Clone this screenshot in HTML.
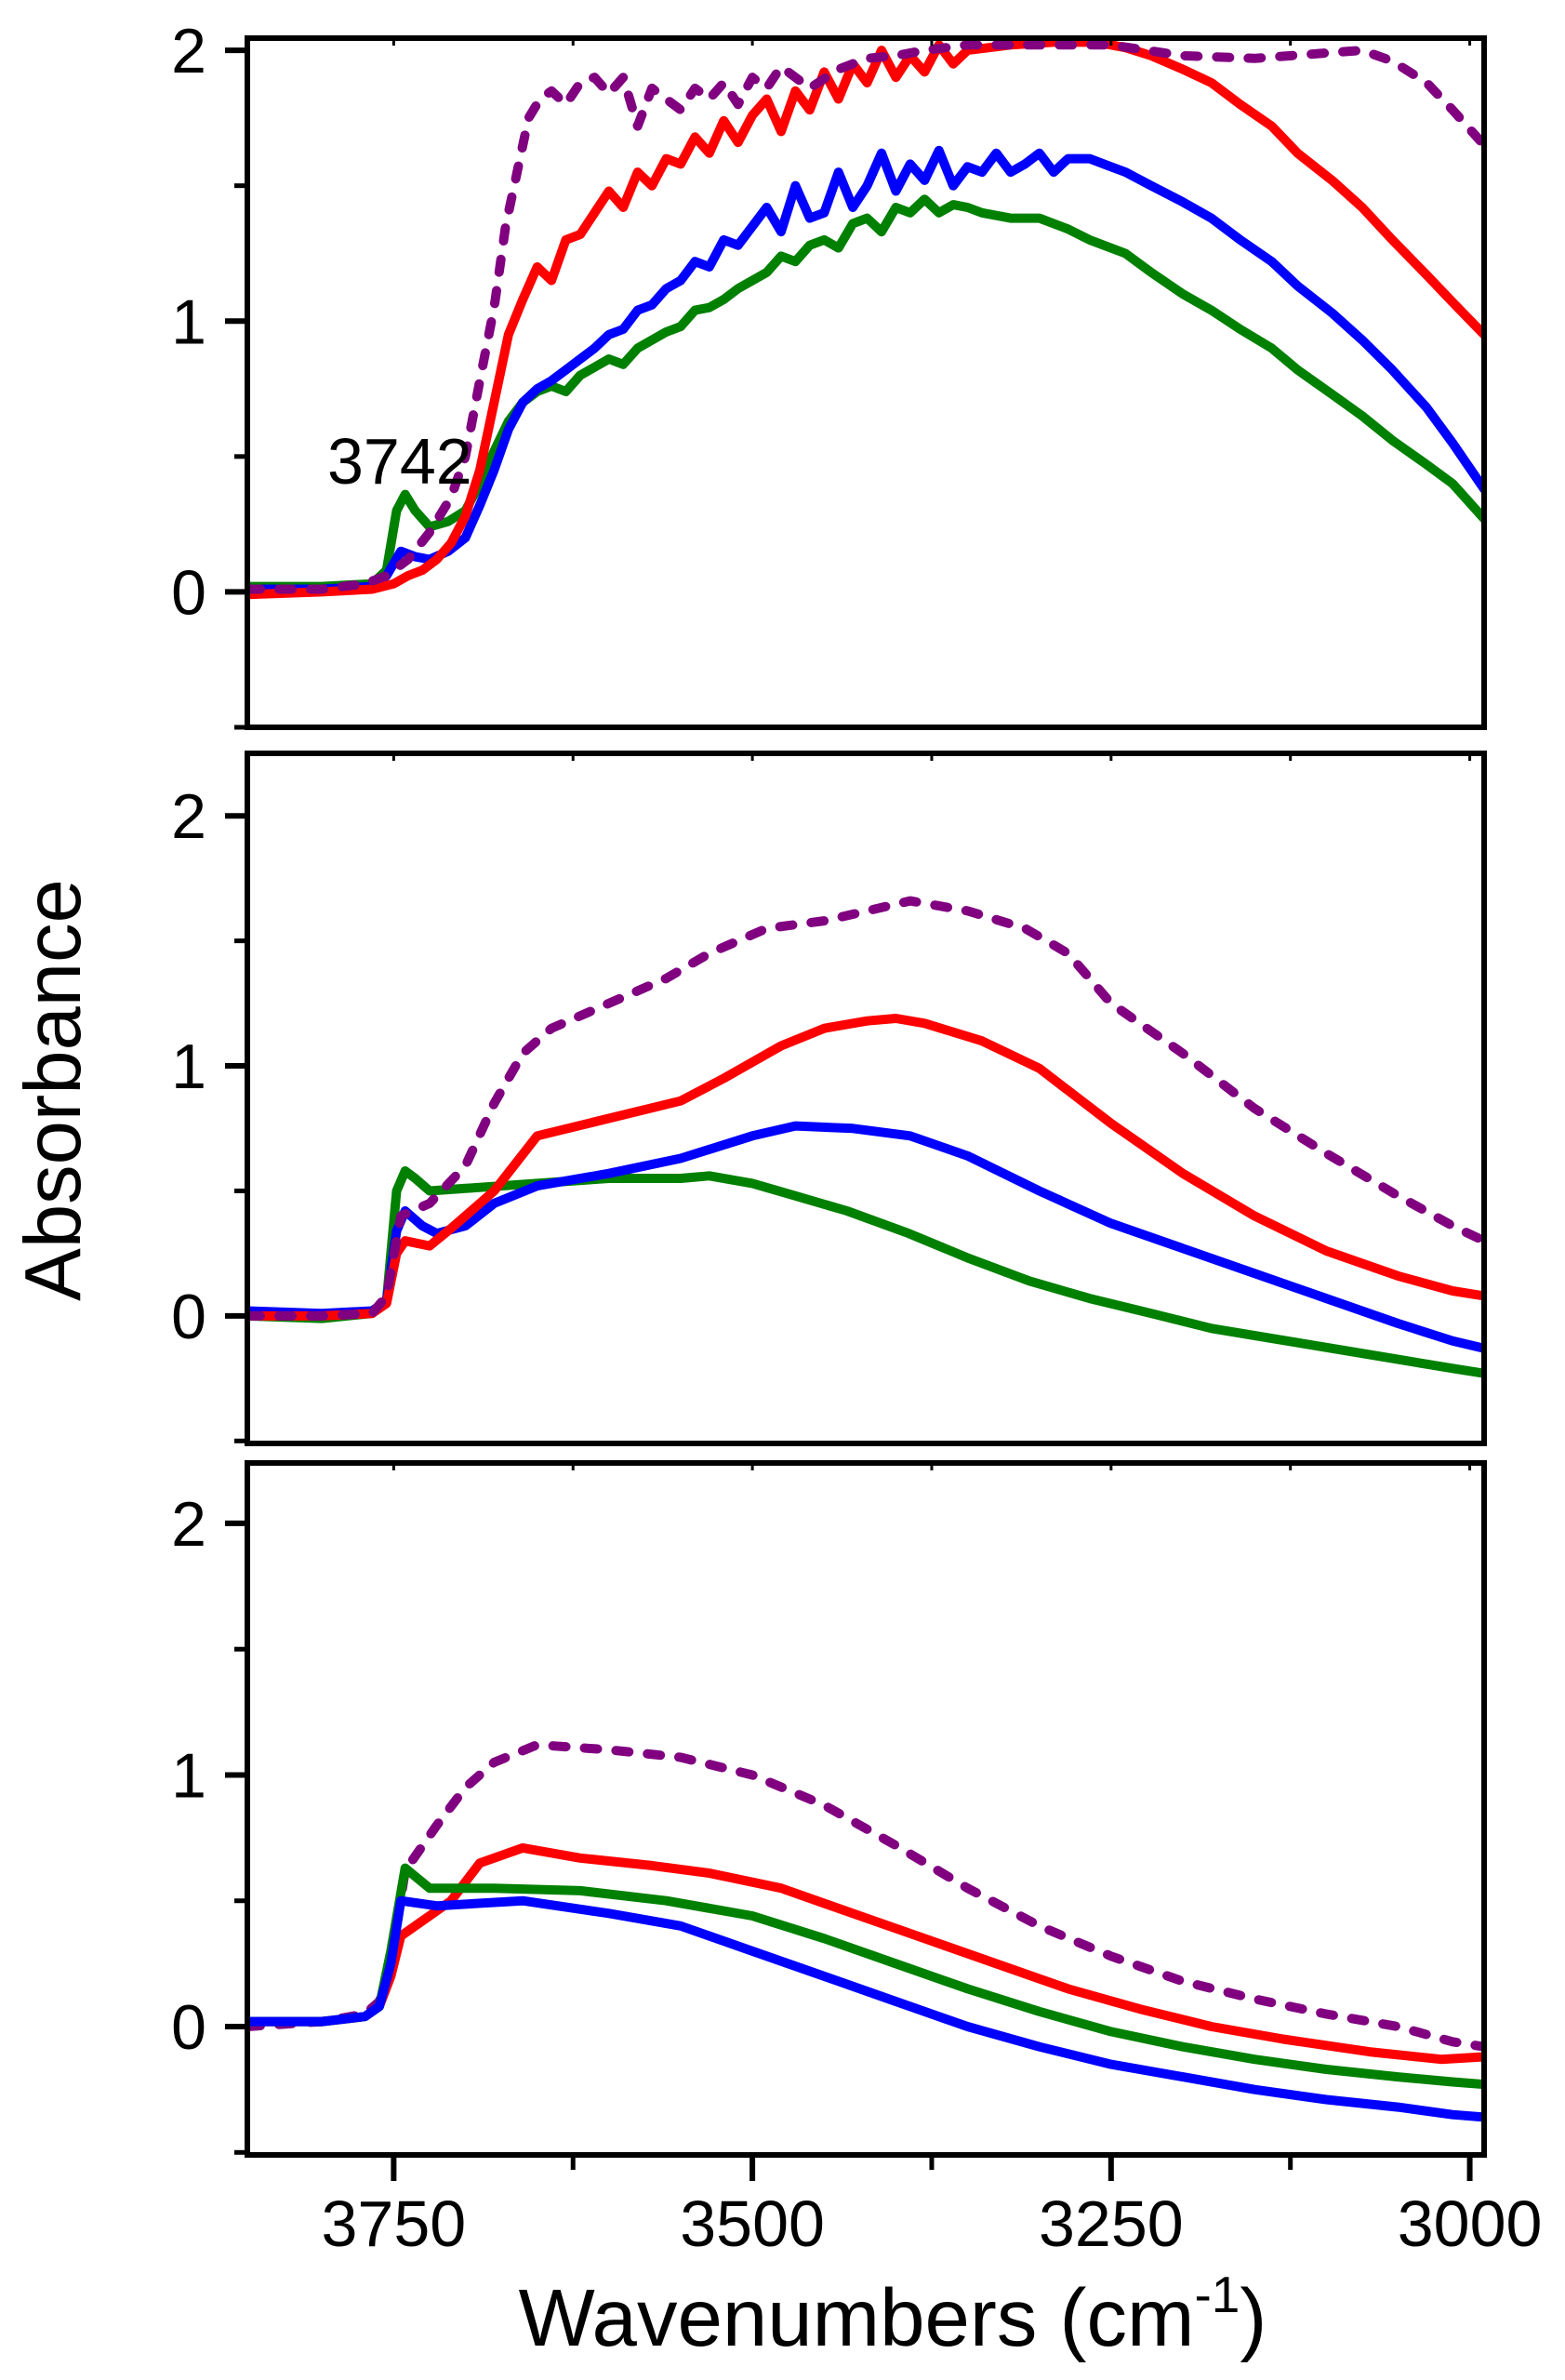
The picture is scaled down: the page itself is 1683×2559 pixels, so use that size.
<!DOCTYPE html>
<html><head><meta charset="utf-8"><style>
html,body{margin:0;padding:0;background:#fff;}
svg{display:block;font-family:"Liberation Sans",sans-serif;}
</style></head>
<body>
<svg id="chart" width="1683" height="2559" viewBox="0 0 1683 2559" xmlns="http://www.w3.org/2000/svg"></svg>
<script>
// shared x axis (wavenumbers)
const xTicks = [3750, 3500, 3250, 3000];
const xMinor = [3625, 3375, 3125];
const xDomain = [3852, 2990];
const yTickLabels = [0, 1, 2];
const yMinor = [-0.5, 0.5, 1.5];

// Panel 1
const p1_green_x = [3852,3800,3765,3755,3748,3742,3735,3725,3712,3700,3690,3680,3670,3660,3650,3640,3630,3620,3610,3600,3590,3580,3570,3560,3550,3540,3530,3520,3510,3500,3490,3480,3470,3460,3450,3440,3430,3420,3410,3400,3390,3380,3370,3360,3350,3340,3320,3300,3280,3265,3240,3222,3200,3180,3160,3138,3120,3096,3075,3054,3030,3012,2990];
const p1_green_y = [0.02,0.02,0.03,0.08,0.30,0.36,0.30,0.24,0.26,0.30,0.40,0.52,0.63,0.70,0.74,0.76,0.74,0.80,0.83,0.86,0.84,0.90,0.93,0.96,0.98,1.04,1.05,1.08,1.12,1.15,1.18,1.24,1.22,1.28,1.30,1.27,1.36,1.38,1.33,1.42,1.40,1.45,1.40,1.43,1.42,1.40,1.38,1.38,1.34,1.30,1.25,1.18,1.10,1.04,0.97,0.90,0.82,0.73,0.65,0.56,0.47,0.40,0.27];
const p1_blue_x = [3852,3800,3765,3755,3745,3735,3725,3712,3700,3690,3680,3670,3660,3650,3640,3630,3620,3610,3600,3590,3580,3570,3560,3550,3540,3530,3520,3510,3500,3490,3480,3470,3460,3450,3440,3430,3420,3410,3400,3390,3380,3370,3360,3350,3340,3330,3320,3310,3300,3290,3280,3265,3250,3240,3222,3200,3180,3160,3138,3120,3096,3075,3054,3030,3012,2990];
const p1_blue_y = [0.01,0.01,0.02,0.06,0.15,0.13,0.12,0.15,0.20,0.32,0.45,0.60,0.70,0.75,0.78,0.82,0.86,0.90,0.95,0.97,1.04,1.06,1.12,1.15,1.22,1.20,1.30,1.28,1.35,1.42,1.33,1.50,1.38,1.40,1.55,1.42,1.50,1.62,1.48,1.58,1.52,1.63,1.50,1.57,1.55,1.62,1.55,1.58,1.62,1.55,1.60,1.60,1.57,1.55,1.50,1.44,1.38,1.30,1.22,1.13,1.03,0.93,0.82,0.68,0.55,0.38];
const p1_red_x = [3852,3800,3765,3750,3740,3730,3720,3710,3700,3690,3680,3670,3660,3650,3640,3630,3620,3610,3600,3590,3580,3570,3560,3550,3540,3530,3520,3510,3500,3490,3480,3470,3460,3450,3440,3430,3420,3410,3400,3390,3380,3370,3360,3350,3320,3290,3260,3240,3222,3200,3180,3160,3138,3120,3096,3075,3054,3030,3012,2990];
const p1_red_y = [-0.01,0.0,0.01,0.03,0.06,0.08,0.12,0.18,0.28,0.45,0.70,0.95,1.08,1.20,1.15,1.30,1.32,1.40,1.48,1.42,1.55,1.50,1.60,1.58,1.68,1.62,1.74,1.66,1.76,1.82,1.70,1.85,1.78,1.92,1.82,1.95,1.88,2.00,1.90,1.98,1.92,2.02,1.95,2.00,2.02,2.03,2.03,2.01,1.98,1.93,1.88,1.80,1.72,1.62,1.52,1.42,1.30,1.17,1.07,0.95];
const p1_purple_x = [3852,3800,3770,3755,3740,3725,3710,3700,3690,3680,3672,3664,3656,3648,3640,3630,3620,3610,3600,3590,3580,3570,3560,3550,3540,3530,3520,3510,3500,3490,3480,3460,3440,3420,3400,3380,3350,3300,3250,3200,3150,3100,3075,3054,3030,3012,2990];
const p1_purple_y = [0.01,0.01,0.03,0.06,0.12,0.22,0.35,0.50,0.78,1.05,1.35,1.55,1.75,1.82,1.85,1.80,1.88,1.90,1.84,1.90,1.72,1.86,1.82,1.78,1.86,1.82,1.88,1.80,1.90,1.86,1.94,1.86,1.93,1.97,1.98,2.00,2.02,2.02,2.02,1.98,1.97,1.99,2.00,1.96,1.88,1.78,1.65];

// Panel 2
const p2_green_x = [3852,3800,3765,3755,3748,3742,3735,3725,3700,3650,3600,3550,3530,3500,3470,3434,3391,3349,3307,3265,3222,3180,3138,3096,3054,3012,2990];
const p2_green_y = [0.0,-0.01,0.01,0.06,0.50,0.58,0.55,0.50,0.51,0.53,0.55,0.55,0.56,0.53,0.48,0.42,0.33,0.23,0.14,0.07,0.01,-0.05,-0.09,-0.13,-0.17,-0.21,-0.23];
const p2_blue_x = [3852,3800,3765,3755,3748,3742,3730,3720,3700,3680,3650,3600,3550,3500,3470,3430,3390,3350,3300,3250,3200,3150,3100,3050,3012,2990];
const p2_blue_y = [0.02,0.01,0.02,0.06,0.34,0.42,0.36,0.33,0.36,0.45,0.52,0.57,0.63,0.72,0.76,0.75,0.72,0.64,0.50,0.37,0.27,0.17,0.07,-0.03,-0.10,-0.13];
const p2_red_x = [3852,3800,3765,3755,3748,3742,3725,3710,3680,3650,3600,3550,3520,3480,3450,3420,3400,3380,3340,3300,3250,3200,3150,3100,3050,3012,2990];
const p2_red_y = [0.0,0.0,0.01,0.05,0.25,0.30,0.28,0.35,0.50,0.72,0.79,0.86,0.95,1.08,1.15,1.18,1.19,1.17,1.10,0.99,0.77,0.57,0.40,0.26,0.16,0.10,0.08];
const p2_purple_x = [3852,3800,3765,3755,3745,3725,3700,3680,3660,3640,3600,3560,3530,3490,3450,3420,3390,3350,3310,3280,3250,3200,3150,3100,3050,3012,2990];
const p2_purple_y = [0.0,0.0,0.01,0.08,0.40,0.45,0.60,0.85,1.05,1.15,1.25,1.35,1.45,1.55,1.58,1.62,1.66,1.62,1.55,1.45,1.25,1.05,0.83,0.65,0.48,0.36,0.30];

// Panel 3
const p3_purple_x = [3852,3800,3770,3760,3752,3742,3720,3700,3680,3650,3600,3550,3500,3450,3400,3350,3300,3250,3200,3150,3100,3050,3012,2990];
const p3_purple_y = [0.0,0.02,0.05,0.10,0.25,0.62,0.80,0.95,1.05,1.12,1.10,1.07,1.00,0.88,0.72,0.55,0.40,0.28,0.18,0.11,0.05,0.0,-0.06,-0.08];
const p3_red_x = [3852,3800,3770,3760,3752,3745,3730,3710,3690,3660,3620,3570,3530,3480,3430,3380,3330,3280,3230,3180,3130,3070,3020,2990];
const p3_red_y = [0.02,0.02,0.04,0.08,0.20,0.36,0.42,0.50,0.65,0.71,0.67,0.64,0.61,0.55,0.45,0.35,0.25,0.15,0.07,0.0,-0.05,-0.10,-0.13,-0.12];
const p3_green_x = [3852,3800,3770,3760,3752,3742,3725,3680,3620,3560,3500,3450,3400,3350,3300,3250,3200,3150,3100,3050,3012,2990];
const p3_green_y = [0.02,0.02,0.04,0.08,0.30,0.63,0.55,0.55,0.54,0.50,0.44,0.35,0.25,0.15,0.06,-0.02,-0.08,-0.13,-0.17,-0.20,-0.22,-0.23];
const p3_blue_x = [3852,3800,3770,3760,3752,3745,3720,3660,3600,3550,3500,3450,3400,3350,3300,3250,3200,3150,3100,3050,3012,2990];
const p3_blue_y = [0.02,0.02,0.04,0.08,0.25,0.50,0.48,0.50,0.45,0.40,0.30,0.20,0.10,0.0,-0.08,-0.15,-0.20,-0.25,-0.29,-0.32,-0.35,-0.36];

const svg = document.getElementById('chart');
const NS = 'http://www.w3.org/2000/svg';
const L = 266, R = 1596;
function xs(v){ return L + (xDomain[0]-v)/(xDomain[0]-xDomain[1])*(R-L); }
function mk(tag, attrs, parent){
  const e = document.createElementNS(NS, tag);
  for (const k in attrs) e.setAttribute(k, attrs[k]);
  (parent||svg).appendChild(e);
  return e;
}
const panels = [
  {name:'top', top:41, bot:782, ymin:-0.5, ymax:2.045, series:[
    ['green', p1_green_x, p1_green_y, '#008000', false],
    ['blue', p1_blue_x, p1_blue_y, '#0000ff', false],
    ['red', p1_red_x, p1_red_y, '#ff0000', false],
    ['purple', p1_purple_x, p1_purple_y, '#800080', true]]},
  {name:'middle', top:810, bot:1552, ymin:-0.51, ymax:2.25, series:[
    ['green', p2_green_x, p2_green_y, '#008000', false],
    ['blue', p2_blue_x, p2_blue_y, '#0000ff', false],
    ['red', p2_red_x, p2_red_y, '#ff0000', false],
    ['purple', p2_purple_x, p2_purple_y, '#800080', true]]},
  {name:'bottom', top:1573, bot:2317, ymin:-0.51, ymax:2.24, series:[
    ['purple', p3_purple_x, p3_purple_y, '#800080', true],
    ['red', p3_red_x, p3_red_y, '#ff0000', false],
    ['green', p3_green_x, p3_green_y, '#008000', false],
    ['blue', p3_blue_x, p3_blue_y, '#0000ff', false]]}
];
const defs = mk('defs', {});
panels.forEach((p, i) => {
  const ys = v => p.bot - (v - p.ymin)/(p.ymax - p.ymin)*(p.bot - p.top);
  const g = mk('g', {});
  
  
  const cp = mk('clipPath', {id:'clip'+i}, defs);
  mk('rect', {x:L, y:p.top, width:R-L, height:p.bot-p.top}, cp);
  p.series.forEach(s => {
    let d = '';
    s[1].forEach((x, j) => { d += (j ? 'L' : 'M') + xs(x).toFixed(1) + ' ' + ys(s[2][j]).toFixed(1); });
    const path = mk('path', {d:d, fill:'none', stroke:s[3], 'stroke-width':10, 'stroke-linejoin':'round', 'stroke-linecap': 'round', 'clip-path':'url(#clip'+i+')'}, g);
    if (s[4]) path.setAttribute('stroke-dasharray', '14 20');
    
    
  });
  const frame = mk('rect', {x:L, y:p.top, width:R-L, height:p.bot-p.top, fill:'none', stroke:'#000', 'stroke-width':6}, g);
  
  
  yTickLabels.forEach(v => {
    const y = ys(v);
    mk('line', {x1:L-24, x2:L, y1:y, y2:y, stroke:'#000', 'stroke-width':6}, g);
    const t = mk('text', {x:L-44, y:y+24, 'font-size':68, 'text-anchor':'end', fill:'#000'}, g);
    t.textContent = v;
    
    
  });
  yMinor.forEach(v => {
    const y = ys(v);
    if (y <= p.bot + 1) mk('line', {x1:L-14, x2:L, y1:y, y2:y, stroke:'#000', 'stroke-width':5}, g);
  });
  xTicks.concat(xMinor).forEach(v => {
    mk('line', {x1:xs(v), x2:xs(v), y1:p.top, y2:p.top+8, stroke:'#000', 'stroke-width':3}, g);
  });
  if (i === 2) {
    xTicks.forEach(v => {
      mk('line', {x1:xs(v), x2:xs(v), y1:p.bot, y2:p.bot+28, stroke:'#000', 'stroke-width':6}, g);
      const t = mk('text', {x:xs(v), y:p.bot+98, 'font-size':70, 'text-anchor':'middle', fill:'#000'}, g);
      t.textContent = v;
      
      
    });
    xMinor.forEach(v => {
      mk('line', {x1:xs(v), x2:xs(v), y1:p.bot, y2:p.bot+16, stroke:'#000', 'stroke-width':5}, g);
    });
  }
});
</script>
<script>
(function(){
  const svg = document.getElementById('chart');
  const NS = 'http://www.w3.org/2000/svg';
  const ann = document.createElementNS(NS, 'text');
  ann.setAttribute('x', 352); ann.setAttribute('y', 520);
  ann.setAttribute('font-size', 70);
  ann.textContent = '3742';
  
  
  svg.appendChild(ann);
  const xt = document.createElementNS(NS, 'text');
  xt.setAttribute('x', 960); xt.setAttribute('y', 2522);
  xt.setAttribute('font-size', 87); xt.setAttribute('text-anchor', 'middle');
  xt.innerHTML = 'Wavenumbers (cm<tspan dy="-36" font-size="55">-1</tspan><tspan dy="36">)</tspan>';
  
  
  svg.appendChild(xt);
  const yt = document.createElementNS(NS, 'text');
  yt.setAttribute('transform', 'translate(86,1172) rotate(-90)');
  yt.setAttribute('font-size', 85); yt.setAttribute('text-anchor', 'middle');
  yt.textContent = 'Absorbance';
  
  
  svg.appendChild(yt);
})();
</script>
</body></html>
